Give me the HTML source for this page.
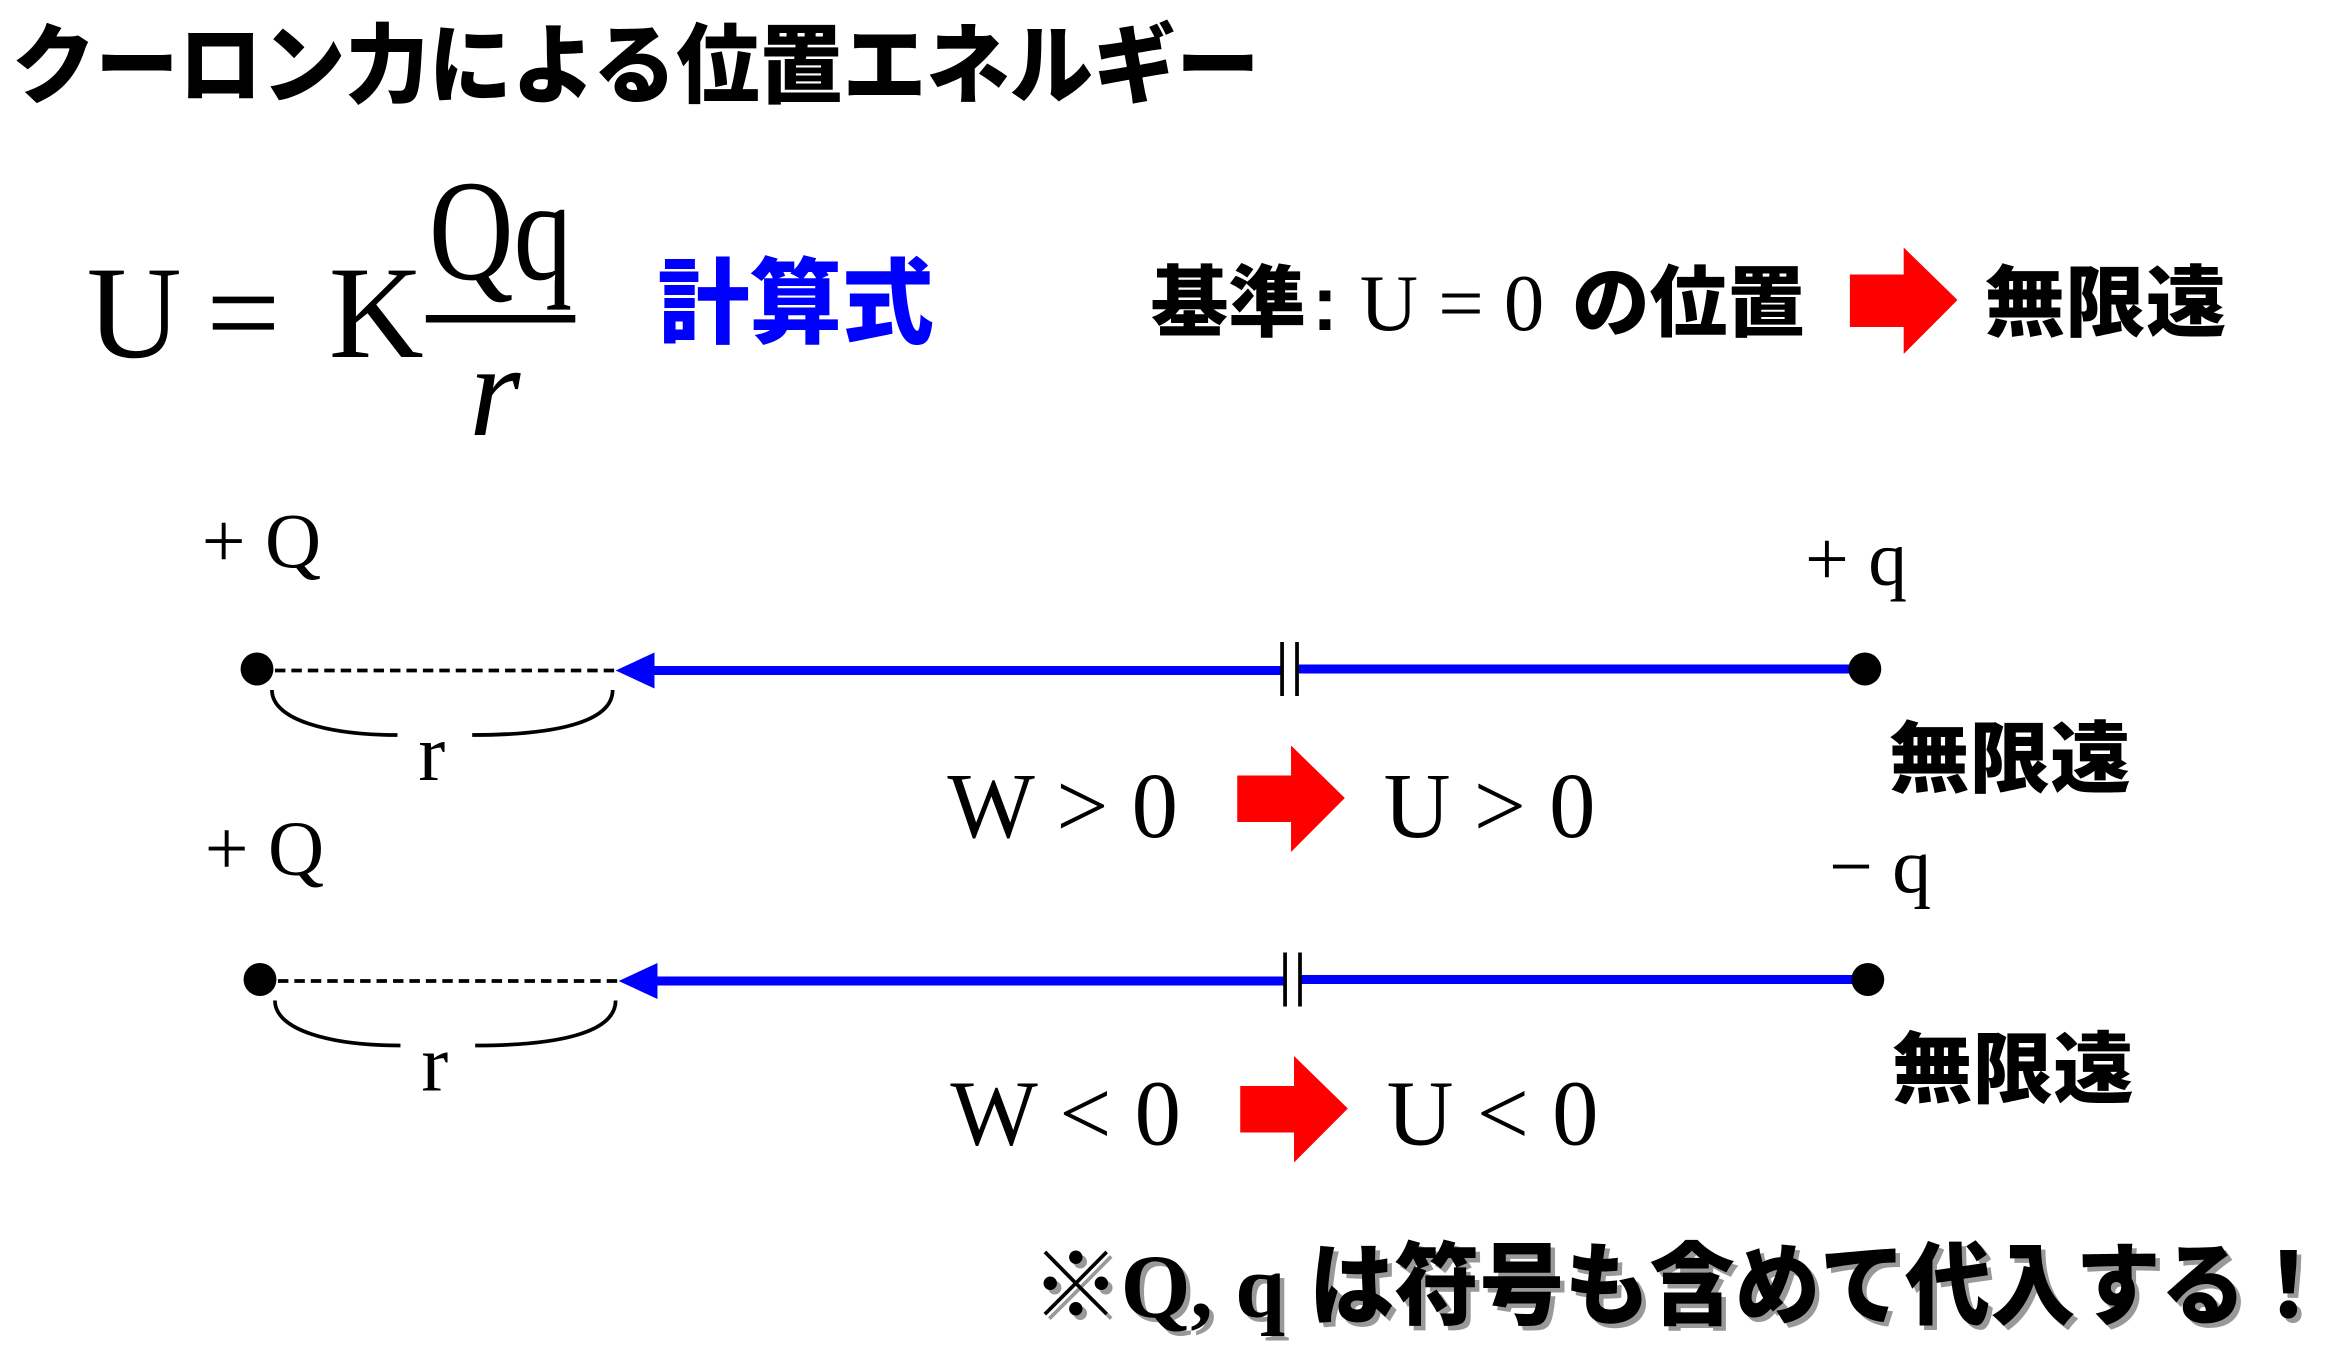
<!DOCTYPE html>
<html><head><meta charset="utf-8"><style>
html,body{margin:0;padding:0;background:#fff;width:2343px;height:1350px;overflow:hidden}
svg{display:block}
.jp{font-family:"Liberation Sans","Noto Sans CJK JP",sans-serif;font-weight:900}
.sr{font-family:"Liberation Serif","Noto Serif CJK SC",serif}
</style></head><body>
<svg width="2343" height="1350" viewBox="0 0 1568 900" preserveAspectRatio="none" xmlns="http://www.w3.org/2000/svg">
<text x="8" y="64" class="jp" font-size="58" textLength="835" lengthAdjust="spacingAndGlyphs">クーロン力による位置エネルギー</text>
<!-- formula -->
<text x="58" y="238" class="sr" font-size="88">U</text>
<text x="138" y="238" class="sr" font-size="88">=</text>
<text x="220" y="238" class="sr" font-size="88">K</text>
<rect x="285" y="210" width="100" height="5" fill="#000"/>
<text x="287" y="186" class="sr" font-size="96" textLength="96" lengthAdjust="spacingAndGlyphs">Qq</text>
<text x="314" y="290" class="sr" font-size="88" font-style="italic">r</text>
<text x="440" y="224" class="jp" font-size="62" fill="#0000ff" textLength="185" lengthAdjust="spacingAndGlyphs">計算式</text>
<text x="770" y="220" class="jp" font-size="52">基準</text>
<text x="878" y="220" class="jp" font-size="52">:</text>
<text x="910" y="220" class="sr" font-size="54">U = 0</text>
<text x="1052" y="220" class="jp" font-size="52">の位置</text>
<polygon points="1238,183 1274,183 1274,165 1310,200 1274,236 1274,218 1238,218" fill="#ff0000"/>
<text x="1328" y="220" class="jp" font-size="52" textLength="162" lengthAdjust="spacingAndGlyphs">無限遠</text>

<!-- diagram 1 -->
<g>
<text x="135" y="378" class="sr" font-size="52">+ Q</text>
<text x="1208" y="390" class="sr" font-size="52">+ q</text>
<circle cx="172" cy="446" r="11" fill="#000"/>
<line x1="184" y1="447" x2="412" y2="447" stroke="#000" stroke-width="2.5" stroke-dasharray="7,4"/>
<polygon points="412,447 438,435 438,459" fill="#0000ff"/>
<line x1="436" y1="447" x2="857" y2="447" stroke="#0000ff" stroke-width="6"/>
<line x1="869" y1="446" x2="1248" y2="446" stroke="#0000ff" stroke-width="6"/>
<line x1="858" y1="428" x2="858" y2="464" stroke="#000" stroke-width="2.5"/>
<line x1="868" y1="428" x2="868" y2="464" stroke="#000" stroke-width="2.5"/>
<circle cx="1248" cy="446" r="11" fill="#000"/>
<path d="M182,460 C182,480 220,490 266,490" fill="none" stroke="#000" stroke-width="2.5"/>
<path d="M316,490 C370,490 410,482 410,460" fill="none" stroke="#000" stroke-width="2.5"/>
<text x="280" y="520" class="sr" font-size="54">r</text>
<text x="1264" y="524" class="jp" font-size="52" textLength="162" lengthAdjust="spacingAndGlyphs">無限遠</text>
<text x="634" y="558" class="sr" font-size="62">W &gt; 0</text>
<polygon points="828,517 864,517 864,497 900,532 864,568 864,548 828,548" fill="#ff0000"/>
<text x="926" y="558" class="sr" font-size="62">U &gt; 0</text>
</g>
<!-- diagram 2 -->
<g transform="translate(2,207)">
<text x="135" y="376" class="sr" font-size="52">+ Q</text>
<text x="1222" y="388" class="sr" font-size="52">− q</text>
<circle cx="172" cy="446" r="11" fill="#000"/>
<line x1="184" y1="447" x2="412" y2="447" stroke="#000" stroke-width="2.5" stroke-dasharray="7,4"/>
<polygon points="412,447 438,435 438,459" fill="#0000ff"/>
<line x1="436" y1="447" x2="857" y2="447" stroke="#0000ff" stroke-width="6"/>
<line x1="869" y1="446" x2="1248" y2="446" stroke="#0000ff" stroke-width="6"/>
<line x1="858" y1="428" x2="858" y2="464" stroke="#000" stroke-width="2.5"/>
<line x1="868" y1="428" x2="868" y2="464" stroke="#000" stroke-width="2.5"/>
<circle cx="1248" cy="446" r="11" fill="#000"/>
<path d="M182,460 C182,480 220,490 266,490" fill="none" stroke="#000" stroke-width="2.5"/>
<path d="M316,490 C370,490 410,482 410,460" fill="none" stroke="#000" stroke-width="2.5"/>
<text x="280" y="520" class="sr" font-size="54">r</text>
<text x="1264" y="524" class="jp" font-size="52" textLength="162" lengthAdjust="spacingAndGlyphs">無限遠</text>
<text x="634" y="556" class="sr" font-size="62">W &lt; 0</text>
<polygon points="828,517 864,517 864,497 900,532 864,568 864,548 828,548" fill="#ff0000"/>
<text x="926" y="556" class="sr" font-size="62">U &lt; 0</text>
</g>
<!-- footer -->
<g transform="translate(3,3)" fill="#999">
<text x="690" y="878" class="jp" font-size="60">※<tspan class="sr" font-weight="bold">Q, q</tspan></text>
<text x="876" y="878" class="jp" font-size="60" textLength="684" lengthAdjust="spacingAndGlyphs">は符号も含めて代入する！</text>
</g>
<text x="690" y="878" class="jp" font-size="60">※<tspan class="sr" font-weight="bold">Q, q</tspan></text>
<text x="876" y="878" class="jp" font-size="60" textLength="684" lengthAdjust="spacingAndGlyphs">は符号も含めて代入する！</text>
</svg>
</body></html>
